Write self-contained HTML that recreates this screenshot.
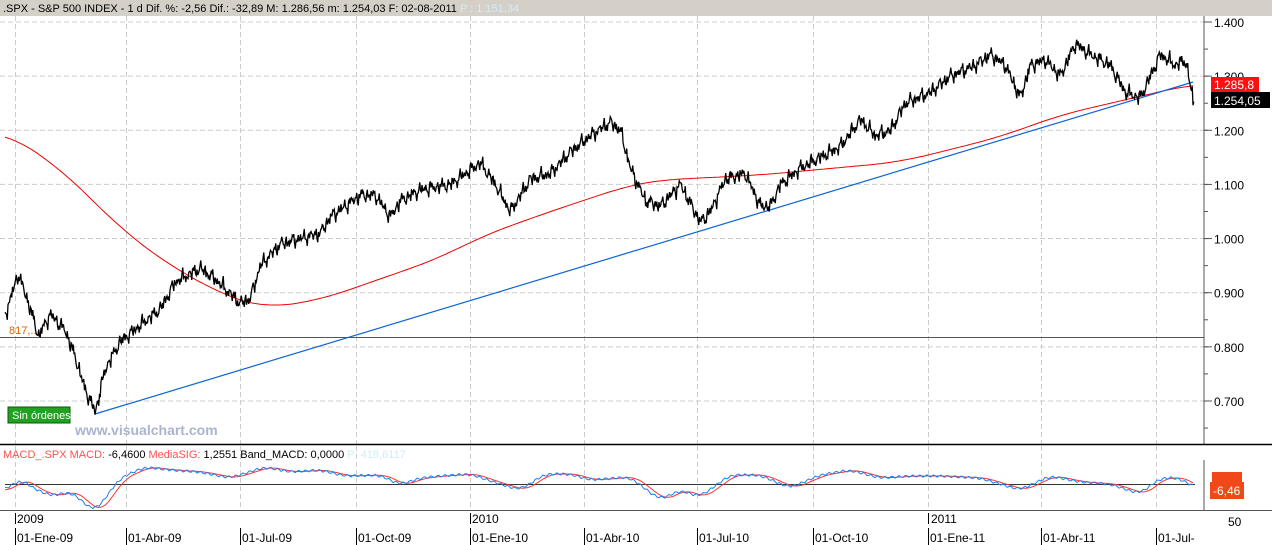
<!DOCTYPE html><html><head><meta charset="utf-8"><style>
body{margin:0;width:1272px;height:545px;overflow:hidden;background:#fff;font-family:"Liberation Sans",sans-serif}
svg{display:block}
</style></head><body>
<svg id="s" width="1272" height="545" xmlns="http://www.w3.org/2000/svg" font-family="Liberation Sans, sans-serif">
<rect x="0" y="0" width="1272" height="16" fill="#d4d0c8"/>
<text x="3" y="12" font-size="11" fill="#000">.SPX - S&amp;P 500 INDEX -  1 d  Dif. %: -2,56  Dif.: -32,89  M: 1.286,56  m: 1.254,03  F: 02-08-2011 <tspan fill="#cfeef5">P : 1.151,34</tspan></text>
<g id="grid"></g>
<line x1="1204" y1="16" x2="1204" y2="444" stroke="#555"/>
<line x1="0" y1="444.5" x2="1272" y2="444.5" stroke="#000" stroke-width="1.5"/>
<line x1="1204" y1="460" x2="1204" y2="510" stroke="#555"/>
<line x1="0" y1="510.5" x2="1272" y2="510.5" stroke="#555"/>
<line x1="0" y1="337.5" x2="1204" y2="337.5" stroke="#555"/>
<text x="9" y="334" font-size="11" fill="#e06000">817,...</text>
<g id="ax" font-size="12" fill="#000"></g>
<polyline id="red" fill="none" stroke="#e00" stroke-width="1"/>
<line x1="95" y1="414" x2="1193" y2="82" stroke="#0a64d6" stroke-width="1.2"/>
<polyline id="px" fill="none" stroke="#000" stroke-width="1.3"/>
<rect x="8" y="407" width="62" height="16" fill="#22a022" stroke="#0a5a0a"/>
<text x="12" y="419" font-size="11" fill="#fff">Sin órdenes</text>
<text x="75" y="435" font-size="14" font-weight="bold" fill="#aab4cc">www.visualchart.com</text>
<rect x="1211" y="77" width="48" height="15" fill="#ff1010"/>
<text x="1214" y="89" font-size="12" fill="#fff">1.285,8</text>
<rect x="1211" y="92" width="59" height="16" fill="#000"/>
<text x="1214" y="105" font-size="12" fill="#fff">1.254,05</text>
<text x="3" y="458" font-size="11" fill="#ff5050">MACD_.SPX MACD: <tspan fill="#000">-6,4600</tspan> MediaSIG: <tspan fill="#000">1,2551  Band_MACD: 0,0000</tspan> <tspan fill="#cfeef5">P: 418,6117</tspan></text>
<line x1="5" y1="484.5" x2="1195" y2="484.5" stroke="#333"/>
<polyline id="m2" fill="none" stroke="#f33" stroke-width="1"/>
<polyline id="m1" fill="none" stroke="#1a80f0" stroke-width="1"/>
<rect x="1212" y="472" width="30" height="10" fill="#f04818"/>
<rect x="1210" y="482" width="34" height="17" fill="#f04818"/>
<text x="1213" y="495" font-size="12" fill="#fff">-6,46</text>
<text x="1228" y="526" font-size="12">50</text>
<text x="17" y="523" font-size="12">2009</text><line x1="15.5" y1="513" x2="15.5" y2="524" stroke="#000"/>
<text x="472" y="523" font-size="12">2010</text><line x1="470.5" y1="513" x2="470.5" y2="524" stroke="#000"/>
<text x="931" y="523" font-size="12">2011</text><line x1="928.5" y1="513" x2="928.5" y2="524" stroke="#000"/>
</svg>
<script>
var NS="http://www.w3.org/2000/svg";function el(t,a,p){var e=document.createElementNS(NS,t);for(var k in a)e.setAttribute(k,a[k]);document.getElementById(p).appendChild(e);return e}
var vx=[15,126,240,356,470,584,697,813,928,1041,1156],lab=["01-Ene-09","01-Abr-09","01-Jul-09","01-Oct-09","01-Ene-10","01-Abr-10","01-Jul-10","01-Oct-10","01-Ene-11","01-Abr-11","01-Jul-"];
function Y(v){return 22+(1400-v)*0.5414}
vx.forEach(function(x,i){el("line",{x1:x+.5,y1:16,x2:x+.5,y2:444,stroke:"#ccc","stroke-dasharray":"5,3"},"grid");el("line",{x1:x+.5,y1:446,x2:x+.5,y2:510,stroke:"#ccc","stroke-dasharray":"5,3"},"grid");el("line",{x1:x+.5,y1:528,x2:x+.5,y2:545,stroke:"#000"},"grid");var t=el("text",{x:x+2,y:542,"font-size":12},"ax");t.textContent=lab[i]});
for(var v=700;v<=1400;v+=100){var y=Y(v);el("line",{x1:0,y1:y,x2:1204,y2:y,stroke:"#ccc","stroke-dasharray":"5,3"},"grid");el("line",{x1:1204,y1:y,x2:1212,y2:y,stroke:"#555"},"grid");var t=el("text",{x:1214,y:y+5,"font-size":12},"ax");t.textContent=(v/1000).toFixed(3)}
for(var v=650;v<=1400;v+=50){el("line",{x1:1204,y1:Y(v),x2:1208,y2:Y(v),stroke:"#555"},"grid")}
var P=[[5,860],[18,935],[30,870],[38,820],[50,860],[65,830],[75,780],[85,720],[95,680],[105,760],[120,810],[140,840],[160,870],[175,920],[200,945],[215,925],[240,880],[250,890],[260,950],[280,990],[300,1000],[320,1010],[330,1040],[345,1060],[360,1080],[375,1080],[390,1040],[400,1070],[420,1090],[450,1100],[480,1140],[495,1100],[510,1050],[530,1110],[550,1120],[570,1160],[590,1190],[610,1215],[620,1200],[630,1130],[645,1070],[660,1060],[680,1100],[700,1030],[710,1050],[725,1110],[745,1120],[760,1060],[770,1060],[780,1100],[800,1130],[820,1150],[840,1170],[860,1220],[875,1190],[890,1200],[905,1250],[930,1270],[950,1300],[975,1320],[990,1340],[1005,1320],[1020,1260],[1030,1320],[1045,1330],[1060,1300],[1075,1360],[1090,1340],[1110,1320],[1125,1270],[1140,1260],[1160,1340],[1175,1320],[1185,1330],[1193,1254]];
function interp(A,x){if(x<=A[0][0])return A[0][1];for(var i=1;i<A.length;i++)if(x<=A[i][0]){var a=A[i-1],b=A[i],t=(x-a[0])/(b[0]-a[0]);return a[1]+t*(b[1]-a[1])}return A[A.length-1][1]}
function smooth(A,x,w){var s=0,n=0;for(var d=-w;d<=w;d+=2){var xx=Math.min(Math.max(x+d,A[0][0]),A[A.length-1][0]);s+=interp(A,xx);n++}return s/n}
var pts=[];for(var x=5;x<=1193;x+=1.5){var v=interp(P,x)+5*Math.sin(x*1.7)+4*Math.sin(x*0.63);pts.push(x+","+Y(v).toFixed(1));pts.push((x+.75)+","+(Y(v)+6*Math.sin(x*3.1)).toFixed(1))}
document.getElementById("px").setAttribute("points",pts.join(" "));
var R=[[5,132],[60,168],[120,228],[170,266],[230,298],[265,308],[320,300],[400,272],[440,258],[480,237],[540,215],[600,195],[630,185],[660,180],[760,175],[900,162],[1000,137],[1060,115],[1193,84]];
var r=[];for(var x=5;x<=1193;x+=3)r.push(x+","+smooth(R,x,30).toFixed(1));document.getElementById("red").setAttribute("points",r.join(" "));
var M=[[5,490],[20,479],[40,492],[55,496],[70,491],[95,512],[120,478],[145,467],[170,470],[200,472],[230,478],[265,467],[290,472],[320,470],[345,476],[380,475],[400,485],[420,478],[440,476],[470,474],[500,484],[520,490],[545,474],[570,474],[590,480],[630,477],[660,500],[680,490],[700,497],[730,475],[760,475],[790,488],[820,475],[850,470],[880,478],[910,476],[940,476],[980,478],[1020,490],[1050,476],[1080,482],[1110,484],[1140,494],[1160,478],[1180,478],[1193,487]];
var a=[],b=[];for(var x=5;x<=1193;x+=2){a.push(x+","+(smooth(M,x,8)+1.2*Math.sin(x*0.9)).toFixed(1));b.push(x+","+smooth(M,x-6,8).toFixed(1))}
document.getElementById("m1").setAttribute("points",a.join(" "));document.getElementById("m2").setAttribute("points",b.join(" "));
</script>
</body></html>
